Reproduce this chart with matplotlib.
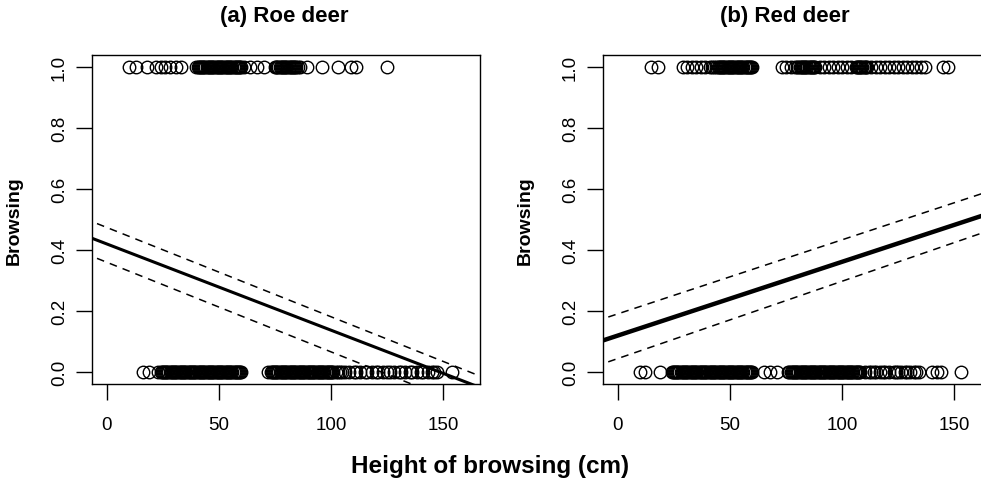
import numpy as np
import matplotlib
matplotlib.use("Agg")
import matplotlib.pyplot as plt

plt.rcParams['font.family'] = ['Liberation Sans', 'DejaVu Sans']

# heights (cm) of browsed (1) and not browsed (0) saplings
roe_browsed = [10, 13, 18, 22, 24, 26, 28, 31, 33,
               40, 40.5, 41, 41.5, 42, 42.5, 43, 43.5, 44, 44.5, 45, 45.5, 46, 46.5, 47, 47.5,
               48, 48.5, 49, 49.5, 50, 50.5, 51, 51.5, 52, 52.5, 53, 53.5, 54, 54.5, 55, 55.5,
               56, 56.5, 57, 57.5, 58, 58.5, 59, 59.5, 60, 61,
               64, 67, 70,
               75, 75.5, 76, 76.5, 77, 77.5, 78, 78.5, 79, 79.5, 80, 80.5, 81, 81.5, 82, 82.5,
               83, 83.5, 84, 84.5, 85, 86,
               89, 96, 103, 109, 111, 125]
roe_not = [16, 19, 23, 24, 24.5, 25, 25.5, 26, 26.5, 27, 27.5, 28, 28.5, 29, 29.5, 30, 30.5,
           31, 31.5, 32, 32.5, 33, 33.5, 34, 34.5, 35, 35.5, 36, 36.5, 37, 37.5, 38, 38.5,
           39, 39.5, 40, 40.5, 41, 41.5, 42, 42.5, 43, 43.5, 44, 44.5, 45, 45.5, 46, 46.5,
           47, 47.5, 48, 48.5, 49, 49.5, 50, 50.5, 51, 51.5, 52, 52.5, 53, 53.5, 54, 54.5,
           55, 55.5, 56, 56.5, 57, 57.5, 58, 58.5, 59, 59.5, 60,
           72, 73, 73.5, 74, 74.5, 75, 75.5, 76, 76.5, 77, 77.5, 78, 78.5, 79, 79.5, 80,
           80.5, 81, 81.5, 82, 82.5, 83, 83.5, 84, 84.5, 85, 85.5, 86, 86.5, 87, 87.5, 88,
           88.5, 89, 89.5, 90, 90.5, 91, 91.5, 92, 92.5, 93, 93.5, 94, 94.5, 95, 95.5, 96,
           96.5, 97, 97.5, 98, 98.5, 99, 99.5, 100, 100.5, 101, 102, 103, 104, 105, 106,
           108, 110, 111, 113, 115, 116, 118, 120, 121, 123, 125, 126, 128, 130, 131, 133,
           135, 136, 138, 140, 141, 143, 145, 146, 147, 154]

red_browsed = [15, 18, 29, 31, 33, 35, 37, 39, 41, 42, 43, 44, 44.5, 45, 45.5, 46, 46.5, 47,
               47.5, 48, 48.5, 49, 49.5, 50, 50.5, 51, 51.5, 52, 52.5, 53, 53.5, 54, 54.5,
               55, 55.5, 56, 56.5, 57, 57.5, 58, 58.5, 59, 59.5, 60,
               73, 75, 77, 79, 80, 80.5, 81, 81.5, 82, 82.5, 83, 83.5, 84, 84.5, 85, 85.5,
               86, 86.5, 87, 87.5, 88, 90, 92, 94, 96, 98, 100, 102, 104, 106, 106.5, 107,
               107.5, 108, 108.5, 109, 109.5, 110, 110.5, 111, 113, 115, 117, 119, 121, 123,
               125, 127, 129, 131, 133, 135, 137,
               145, 147]
red_not = [10, 12, 19, 24, 24.5, 25, 25.5, 26, 26.5, 27, 27.5, 28, 28.5, 29, 29.5, 30, 30.5,
           31, 31.5, 32, 32.5, 33, 33.5, 34, 34.5, 35, 35.5, 36, 36.5, 37, 37.5, 38, 38.5,
           39, 39.5, 40, 40.5, 41, 41.5, 42, 42.5, 43, 43.5, 44, 44.5, 45, 45.5, 46, 46.5,
           47, 47.5, 48, 48.5, 49, 49.5, 50, 50.5, 51, 51.5, 52, 52.5, 53, 53.5, 54, 54.5,
           55, 55.5, 56, 56.5, 57, 57.5, 58, 58.5, 59, 59.5, 60,
           65, 68, 71,
           76, 76.5, 77, 77.5, 78, 78.5, 79, 79.5, 80, 80.5, 81, 81.5, 82, 82.5, 83, 83.5,
           84, 84.5, 85, 85.5, 86, 86.5, 87, 87.5, 88, 88.5, 89, 89.5, 90, 90.5, 91, 91.5,
           92, 92.5, 93, 93.5, 94, 94.5, 95, 95.5, 96, 96.5, 97, 97.5, 98, 98.5, 99, 99.5,
           100, 100.5, 101, 101.5, 102, 102.5, 103, 103.5, 104, 104.5, 105, 105.5, 106,
           106.5, 107, 107.5, 108, 110, 112, 113, 114, 115, 117, 118, 119, 121, 123, 124,
           125, 126, 128, 129, 130, 132, 133, 134,
           140, 142, 144, 153]

# fitted line and band: [intercept, slope] for fit, upper, lower
roe_fit = [0.420, -0.00283]
roe_upper = [0.474, -0.00293]
roe_lower = [0.360, -0.00294]
red_fit = [0.1195, 0.00242]
red_upper = [0.1906, 0.00243]
red_lower = [0.0442, 0.002536]

titles = ["(a) Roe deer", "(b) Red deer"]
xticks = [0, 50, 100, 150]
yticks = [0.0, 0.2, 0.4, 0.6, 0.8, 1.0]

fig = plt.figure(figsize=(9.81, 4.81), dpi=100)
ax1 = fig.add_axes([0.0941, 0.1990, 0.3955, 0.6852])
ax2 = fig.add_axes([0.6150, 0.1990, 0.3955, 0.6852])

xx = np.array([-10, 175])
panels = [(ax1, roe_browsed, roe_not, roe_fit, roe_upper, roe_lower, 2.2),
          (ax2, red_browsed, red_not, red_fit, red_upper, red_lower, 3.2)]

for ax, yes, no, fit, up, lo, lw in panels:
    ax.plot(yes, np.ones(len(yes)), 'o', mfc='none', mec='black', ms=9, mew=1.0)
    ax.plot(no, np.zeros(len(no)), 'o', mfc='none', mec='black', ms=9, mew=1.0)
    ax.plot(xx, fit[0] + fit[1] * xx, color='black', lw=lw, solid_capstyle='butt')
    ax.plot(xx, up[0] + up[1] * xx, color='black', lw=1.1, dashes=(5, 4))
    ax.plot(xx, lo[0] + lo[1] * xx, color='black', lw=1.1, dashes=(5, 4))
    ax.set_xlim(-6.4, 166.4)
    ax.set_ylim(-0.04, 1.04)
    ax.set_xticks(xticks)
    ax.set_yticks(yticks)
    ax.set_yticklabels(['%.1f' % v for v in yticks])
    ax.tick_params(axis='both', direction='out', length=11.5, width=1, labelsize=13.5)
    ax.tick_params(axis='x', pad=11)
    ax.tick_params(axis='y', pad=6, labelrotation=90)
    for lab in ax.get_yticklabels():
        lab.set_va('center')
    for s in ax.spines.values():
        s.set_linewidth(1)
    ax.set_ylabel("Browsing", fontsize=14, fontweight='bold')
    ax.yaxis.set_label_coords(-0.18, 0.5)

fig.text(0.2895, 0.9647, titles[0], ha='center', va='center', fontsize=16, fontweight='bold')
fig.text(0.800, 0.9647, titles[1], ha='center', va='center', fontsize=16, fontweight='bold')
fig.text(0.5, 0.031, "Height of browsing (cm)", ha='center', va='center', fontsize=17.5, fontweight='bold')

fig.savefig("out.png", dpi=100)
